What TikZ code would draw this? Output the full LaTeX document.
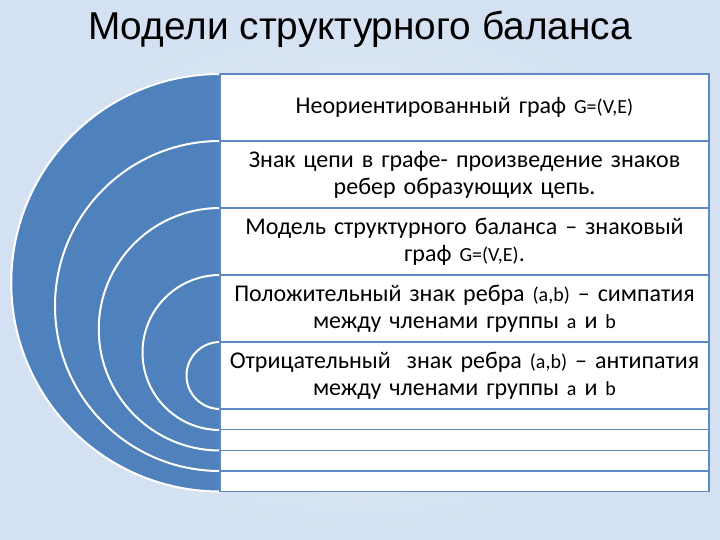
\documentclass[tikz,border=0pt]{standalone}
\usepackage{fontspec}
\setmainfont{Carlito}
\newfontfamily\titlefont{Liberation Sans}
\usetikzlibrary{positioning}
\definecolor{bgblue}{HTML}{D3E1F2}
\definecolor{bglight}{HTML}{E9F0F9}
\definecolor{arcblue}{HTML}{4F81BD}
\definecolor{rowline}{HTML}{5F89C2}
\newcommand{\sm}[1]{{\fontsize{20}{24}\selectfont #1}}

\begin{document}
\begin{tikzpicture}[x=1pt, y=-1pt,
    rowbox/.style={rectangle, draw=rowline, line width=1.4pt, fill=white, minimum width=489pt, text width=484pt, align=center, inner sep=0pt, outer sep=0pt, font=\fontsize{24}{27}\selectfont},
    arcfill/.style={fill=arcblue, draw=white, line width=2pt}]
        % Background
        \shade[inner color=bglight, outer color=bgblue] (0,0) rectangle (720,540);
        \useasboundingbox (0,0) rectangle (720,540);

        % Title
        \node (title) [font=\titlefont\fontsize{38.8}{42}\selectfont] at (360,29) {Модели структурного баланса};

        % Half circles
        \foreach \top/\rad in {74/208.75, 141/165, 208/121.25, 275/77.5, 342/33.5}
            \filldraw[arcfill] (220,\top) arc[start angle=270, end angle=90, radius=\rad] -- cycle;

        % Rows
        \node (r1) [rowbox, minimum height=67pt] at (464.5,107.5) {Неориентированный граф \sm{G=(V,E)}};
        \node (r2) [rowbox, minimum height=67pt, below=0pt of r1] {Знак цепи в графе- произведение знаков\\ребер образующих цепь.};
        \node (r3) [rowbox, minimum height=67pt, below=0pt of r2] {Модель структурного баланса – знаковый\\граф \sm{G=(V,E)}.};
        \node (r4) [rowbox, minimum height=67pt, below=0pt of r3] {Положительный знак ребра \sm{(a,b)} – симпатия\\между членами группы \sm{a} и \sm{b}};
        \node (r5) [rowbox, minimum height=67pt, below=0pt of r4] {Отрицательный~ знак ребра \sm{(a,b)} – антипатия\\между членами группы \sm{a} и \sm{b}};
        \node (r6) [rowbox, minimum height=20.6pt, below=0pt of r5] {};
        \node (r7) [rowbox, minimum height=20.6pt, below=0pt of r6] {};
        \node (r8) [rowbox, minimum height=20.6pt, below=0pt of r7] {};
        \node (r9) [rowbox, minimum height=20.6pt, below=0pt of r8] {};
    \end{tikzpicture}
\end{document}
